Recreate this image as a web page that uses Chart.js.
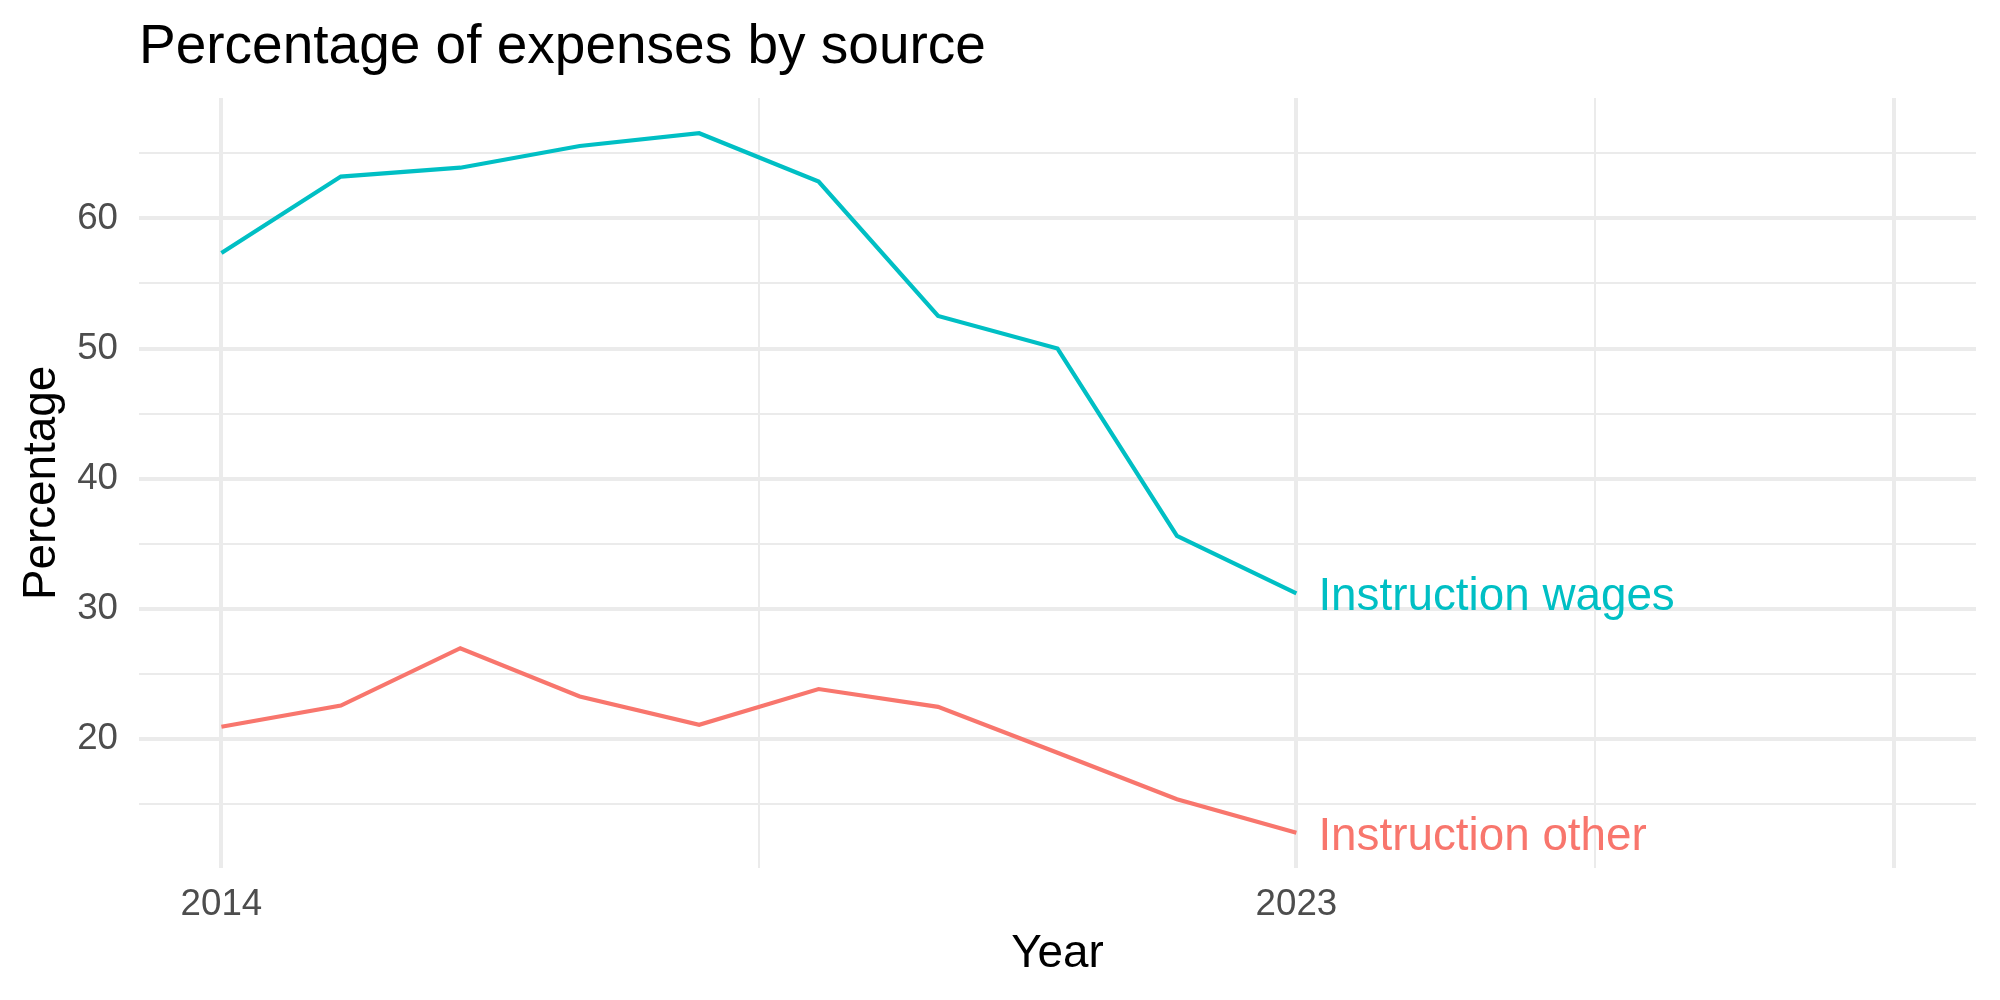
<!DOCTYPE html>
<html>
<head>
<meta charset="utf-8">
<title>Percentage of expenses by source</title>
<script src="https://cdn.jsdelivr.net/npm/chart.js@4/dist/chart.umd.min.js"></script>
<style>
  html, body { margin: 0; padding: 0; background: #fff; }
  canvas { display: block; }
</style>
</head>
<body>
<canvas id="chart" width="2000" height="1000"></canvas>
<script>
// values
const YEARS = [2014, 2015, 2016, 2017, 2018, 2019, 2020, 2021, 2022, 2023];
const WAGES = [57.35, 63.22, 63.9, 65.57, 66.55, 62.84, 52.5, 50.0, 35.6, 31.18];
const OTHER = [20.92, 22.55, 26.96, 23.24, 21.07, 23.82, 22.45, 18.92, 15.35, 12.77];
const SERIES_NAMES = ["Instruction wages", "Instruction other"];

const X_GRID = [2014, 2018.5, 2023, 2025.5, 2028];
const X_LABELED = [2014, 2023];
const X_MAJOR = [2014, 2023, 2028];
const Y_GRID = [15, 20, 25, 30, 35, 40, 45, 50, 55, 60, 65];
const Y_LABELED = [20, 30, 40, 50, 60];

const C = { wages: "#00BFC4", other: "#F8766D", grid: "#EBEBEB", tick: "#4D4D4D", ink: "#000000" };
const FONT = "'Liberation Sans', Arial, Helvetica, sans-serif";

const toPts = (ys) => ys.map((y, i) => ({ x: YEARS[i], y }));

// end-of-line labels, placed through the scales
const endLabels = {
  id: "endLabels",
  afterDatasetsDraw(chart) {
    const ctx = chart.ctx;
    ctx.save();
    ctx.font = `45.8px ${FONT}`;
    ctx.textAlign = "left";
    ctx.textBaseline = "alphabetic";
    chart.data.datasets.forEach((ds, i) => {
      const pts = chart.getDatasetMeta(i).data;
      const last = pts[pts.length - 1];
      ctx.fillStyle = ds.borderColor;
      ctx.fillText(ds.label, last.x + 22, last.y + 17);
    });
    ctx.restore();
  },
};

new Chart(document.getElementById("chart"), {
  type: "line",
  data: {
    datasets: [
      { label: SERIES_NAMES[0], data: toPts(WAGES), borderColor: C.wages, borderWidth: 4.2, pointRadius: 0, tension: 0, fill: false },
      { label: SERIES_NAMES[1], data: toPts(OTHER), borderColor: C.other, borderWidth: 4.2, pointRadius: 0, tension: 0, fill: false },
    ],
  },
  options: {
    responsive: false,
    animation: false,
    layout: { padding: { left: 0, right: 24, top: 0, bottom: 0 } },
    plugins: {
      legend: { display: false },
      tooltip: { enabled: false },
      title: {
        display: true, text: "Percentage of expenses by source",
        align: "start", fullSize: false, color: C.ink,
        font: { family: FONT, size: 55, weight: "normal", lineHeight: 1.2 },
        padding: { top: 15, bottom: 17 },
      },
    },
    scales: {
      x: {
        type: "linear", min: 2013.31, max: 2028.69,
        afterBuildTicks: (s) => { s.ticks = X_GRID.map((v) => ({ value: v })); },
        afterFit: (s) => { s.height = 132; },
        ticks: {
          callback: (v) => X_LABELED.includes(v) ? String(v) : "",
          color: C.tick, padding: 15, maxRotation: 0, autoSkip: false,
          font: { family: FONT, size: 36.7, lineHeight: 1.2 },
        },
        grid: {
          color: C.grid, drawTicks: false,
          lineWidth: (c) => c.tick && X_MAJOR.includes(c.tick.value) ? 4 : 2,
        },
        border: { display: false },
        title: {
          display: true, text: "Year", color: C.ink,
          font: { family: FONT, size: 45.8, lineHeight: 1.2 },
          padding: { top: 0, bottom: 18.5 },
        },
      },
      y: {
        type: "linear", min: 10.06, max: 69.26,
        afterBuildTicks: (s) => { s.ticks = Y_GRID.map((v) => ({ value: v })); },
        afterFit: (s) => { s.width = 139; },
        ticks: {
          callback: (v) => Y_LABELED.includes(v) ? String(v) : "",
          color: C.tick, padding: 21, autoSkip: false,
          font: { family: FONT, size: 36.7, lineHeight: 1.2 },
        },
        grid: {
          color: C.grid, drawTicks: false,
          lineWidth: (c) => c.tick && Y_LABELED.includes(c.tick.value) ? 4 : 2,
        },
        border: { display: false },
        title: {
          display: true, text: "Percentage", color: C.ink,
          font: { family: FONT, size: 45.8, lineHeight: 1.2 },
          padding: { top: 15, bottom: 0 },
        },
      },
    },
  },
  plugins: [endLabels],
});
</script>
</body>
</html>
